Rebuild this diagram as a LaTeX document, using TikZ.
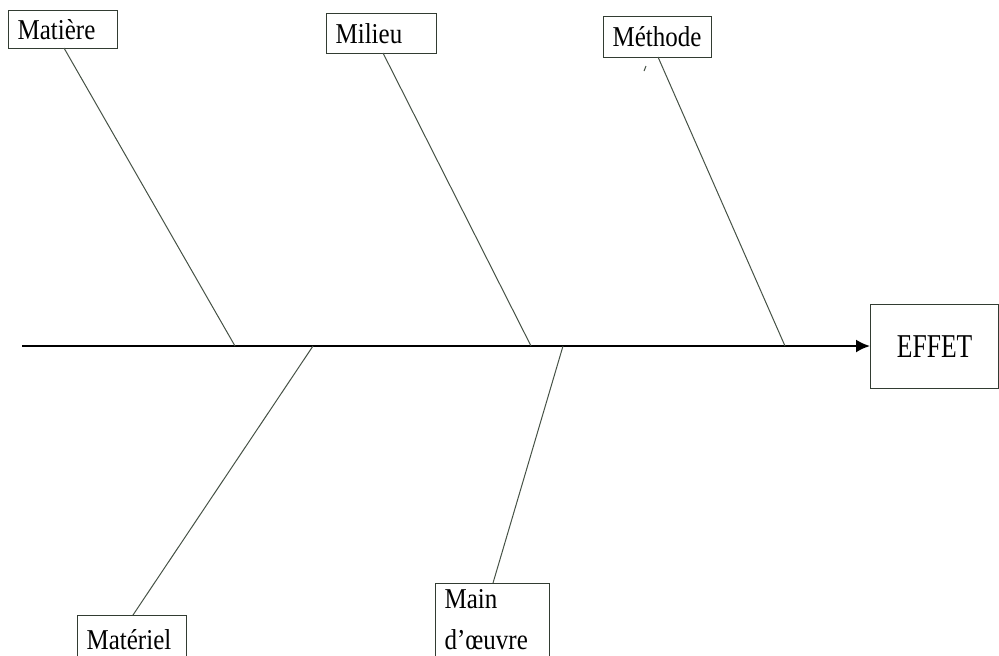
\documentclass[tikz,border=0pt]{standalone}
\usepackage{fontspec}
\usepackage{graphicx}
\setmainfont{Liberation Serif}
\usetikzlibrary{arrows.meta}
\definecolor{linec}{RGB}{70,82,70}
\definecolor{boxc}{RGB}{50,60,50}
\newcommand{\tx}[1]{\scalebox{1}[1.15]{#1}}
\newcommand{\txe}[1]{\scalebox{1}[1.3]{#1}}
\tikzset{
  px/.style={x=0.5pt,y=-0.5pt},
  lbl/.style={draw=boxc, line width=0.6pt, anchor=north west, inner xsep=4.5pt, inner ysep=0pt,
    align=left, font=\fontsize{12.5}{20.5}\selectfont},
  bone/.style={draw=linec, line width=0.5pt},
  spine/.style={draw=black, line width=1.1pt, -{Latex[length=7pt,width=6.5pt]}}
}
\begin{document}
\begin{tikzpicture}[px]
\useasboundingbox (0,0) rectangle (999,655);
\clip (0,0) rectangle (999,655);
% boxes
\node[lbl, text width=45.5pt, minimum height=19pt] (matiere) at (8,10) {\tx{Matière}};
\node[lbl, text width=46pt, minimum height=20pt] (milieu) at (326,13) {\tx{Milieu}};
\node[lbl, text width=45pt, minimum height=20.5pt] (methode) at (603,16) {\tx{Méthode}};
\node[draw=boxc, line width=0.6pt, anchor=north west, minimum width=64pt, minimum height=42pt,
      font=\fontsize{12.8}{15}\selectfont] (effet) at (870,304) {\txe{EFFET}};
\node[lbl, text width=45.5pt, minimum height=24pt, anchor=north west] (materiel) at (77,615) {\tx{Matériel}};
\node[lbl, text width=48pt, minimum height=36.5pt] (main) at (435,583) {\tx{Main}\\\tx{d’œuvre}};
% spine
\coordinate (tail) at (22,346);
\draw[spine] (tail) -- (tail -| effet.west);
% branch points on the spine
\coordinate (s1) at (235,346);
\coordinate (s2) at (313,346);
\coordinate (s3) at (531,346);
\coordinate (s4) at (563,346);
\coordinate (s5) at (785,346);
% attachment points on boxes
\coordinate (b1) at (64,48);
\coordinate (b2) at (383,53);
\coordinate (b3) at (658,57);
\coordinate (b4) at (133,615);
\coordinate (b5) at (493,583);
\draw[bone] (b1) -- (s1);
\draw[bone] (b2) -- (s3);
\draw[bone] (b3) -- (s5);
\draw[bone] (b4) -- (s2);
\draw[bone] (b5) -- (s4);
% stray tick
\coordinate (t1) at (644,71);
\coordinate (t2) at (646,66);
\draw[linec, line width=0.5pt] (t1) -- (t2);
\end{tikzpicture}
\end{document}
